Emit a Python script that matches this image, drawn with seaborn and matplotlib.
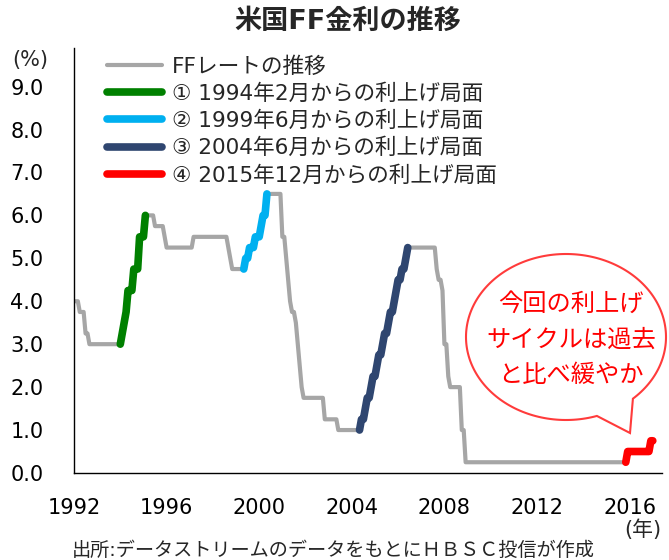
import numpy as np
import pandas as pd
import matplotlib
matplotlib.use("Agg")
import matplotlib.pyplot as plt
from matplotlib.path import Path
from matplotlib.patches import PathPatch
import seaborn as sns

# FFレート（誘導目標）の変更月と変更後の水準（%）
change_months = [
    "1992-01", "1992-04", "1992-07", "1992-09",
    "1994-02", "1994-03", "1994-04", "1994-05", "1994-08", "1994-11", "1995-02",
    "1995-07", "1995-12", "1996-01", "1997-03",
    "1998-09", "1998-10", "1998-11",
    "1999-06", "1999-08", "1999-11", "2000-02", "2000-03", "2000-05",
    "2001-01", "2001-03", "2001-04", "2001-05", "2001-06", "2001-08",
    "2001-09", "2001-10", "2001-11", "2001-12", "2002-11", "2003-06",
    "2004-06", "2004-08", "2004-09", "2004-11", "2004-12",
    "2005-02", "2005-03", "2005-05", "2005-06", "2005-08", "2005-09",
    "2005-11", "2005-12", "2006-01", "2006-03", "2006-05", "2006-06",
    "2007-09", "2007-10", "2007-12", "2008-01", "2008-03", "2008-04",
    "2008-10", "2008-12",
    "2015-12", "2016-12",
]
change_rates = [
    4.00, 3.75, 3.25, 3.00,
    3.25, 3.50, 3.75, 4.25, 4.75, 5.50, 6.00,
    5.75, 5.50, 5.25, 5.50,
    5.25, 5.00, 4.75,
    5.00, 5.25, 5.50, 5.75, 6.00, 6.50,
    5.50, 5.00, 4.50, 4.00, 3.75, 3.50,
    3.00, 2.50, 2.00, 1.75, 1.25, 1.00,
    1.25, 1.50, 1.75, 2.00, 2.25,
    2.50, 2.75, 3.00, 3.25, 3.50, 3.75,
    4.00, 4.25, 4.50, 4.75, 5.00, 5.25,
    4.75, 4.50, 4.25, 3.00, 2.25, 2.00,
    1.00, 0.25,
    0.50, 0.75,
]
last_month = "2017-01"

# 利上げ局面（開始月, 終了月）
hike_labels = [
    "① 1994年2月からの利上げ局面",
    "② 1999年6月からの利上げ局面",
    "③ 2004年6月からの利上げ局面",
    "④ 2015年12月からの利上げ局面",
]
hike_start = ["1994-01", "1999-05", "2004-05", "2015-11"]
hike_end = ["1995-02", "2000-05", "2006-06", "2017-01"]
hike_colors = ["#008000", "#00B0F0", "#2F4670", "#FF0000"]

year_ticks = [1992, 1996, 2000, 2004, 2008, 2012, 2016]
rate_ticks = [0, 1, 2, 3, 4, 5, 6, 7, 8, 9]

# 月次系列にする（変更がない月は前月の水準のまま）
steps = pd.Series(change_rates, index=pd.PeriodIndex(change_months, freq="M"))
months = pd.period_range(change_months[0], last_month, freq="M")
df = pd.DataFrame({"rate": steps.reindex(months).ffill()})
df["x"] = months.year + (months.month - 1) / 12.0

sns.set_style("white")
plt.rcParams["font.family"] = ["DejaVu Sans", "Noto Sans CJK JP"]

fig = plt.figure(figsize=(6.69, 5.6), dpi=100)
ax = fig.add_axes([0.1106, 0.1554, 0.879, 0.759])

sns.lineplot(data=df, x="x", y="rate", ax=ax, color="#A6A6A6", lw=3,
             estimator=None, label="FFレートの推移")
for lab, s, e, c in zip(hike_labels, hike_start, hike_end, hike_colors):
    seg = df.loc[pd.Period(s, "M"):pd.Period(e, "M")]
    sns.lineplot(data=seg, x="x", y="rate", ax=ax, color=c, lw=5.5,
                 estimator=None, label=lab, solid_capstyle="round")

ax.set_xlim(1992, 2017.4)
ax.set_ylim(0, 9.9)
ax.set_xticks(year_ticks)
ax.set_yticks(rate_ticks)
ax.set_yticklabels([f"{v:.1f}" for v in rate_ticks])
ax.set_xlabel("")
ax.set_ylabel("")
for side in ["top", "right"]:
    ax.spines[side].set_visible(False)
for side in ["left", "bottom"]:
    ax.spines[side].set_color("black")
    ax.spines[side].set_linewidth(1.0)
ax.tick_params(axis="both", direction="out", length=6, width=1.0,
               colors="black", labelsize=15)
ax.tick_params(axis="y", pad=16)
ax.tick_params(axis="x", pad=12)

leg = ax.legend(loc="upper left", bbox_to_anchor=(107 / 669, 1 - 56 / 560),
                bbox_transform=fig.transFigure, frameon=False, fontsize=15.6,
                handlelength=2.55, handletextpad=0.45, labelspacing=0.31,
                borderpad=0, borderaxespad=0)

fig.text(348 / 669, 1 - 22 / 560, "米国FF金利の推移", ha="center", va="center",
         fontsize=19.5, fontweight="bold")
fig.text(30 / 669, 1 - 60 / 560, "(%)", ha="center", va="center", fontsize=15)
fig.text(643 / 669, 1 - 530 / 560, "(年)", ha="center", va="center", fontsize=15)
fig.text(333 / 669, 1 - 550 / 560, "出所:データストリームのデータをもとにＨＢＳＣ投信が作成",
         ha="center", va="center", fontsize=13.8)

# 吹き出し
cx, cy, a, b = 566, 337, 100, 83
t = np.radians(np.linspace(72, 360 + 48, 200))
px = list(cx + a * np.cos(t)) + [630]
py = list(cy + b * np.sin(t)) + [433]
verts = [(x / 669, 1 - y / 560) for x, y in zip(px, py)]
verts.append(verts[0])
codes = [Path.MOVETO] + [Path.LINETO] * (len(verts) - 2) + [Path.CLOSEPOLY]
bubble = PathPatch(Path(verts, codes), transform=fig.transFigure,
                   facecolor="white", edgecolor="#FF3B3B", lw=1.5,
                   zorder=10, clip_on=False)
fig.patches.append(bubble)
for txt, yy in zip(["今回の利上げ", "サイクルは過去", "と比べ緩やか"], [304, 340, 375]):
    fig.text(571 / 669, 1 - yy / 560, txt, ha="center", va="center",
             fontsize=17.5, color="#FF0000", zorder=11)

fig.savefig("out.png", dpi=100)
